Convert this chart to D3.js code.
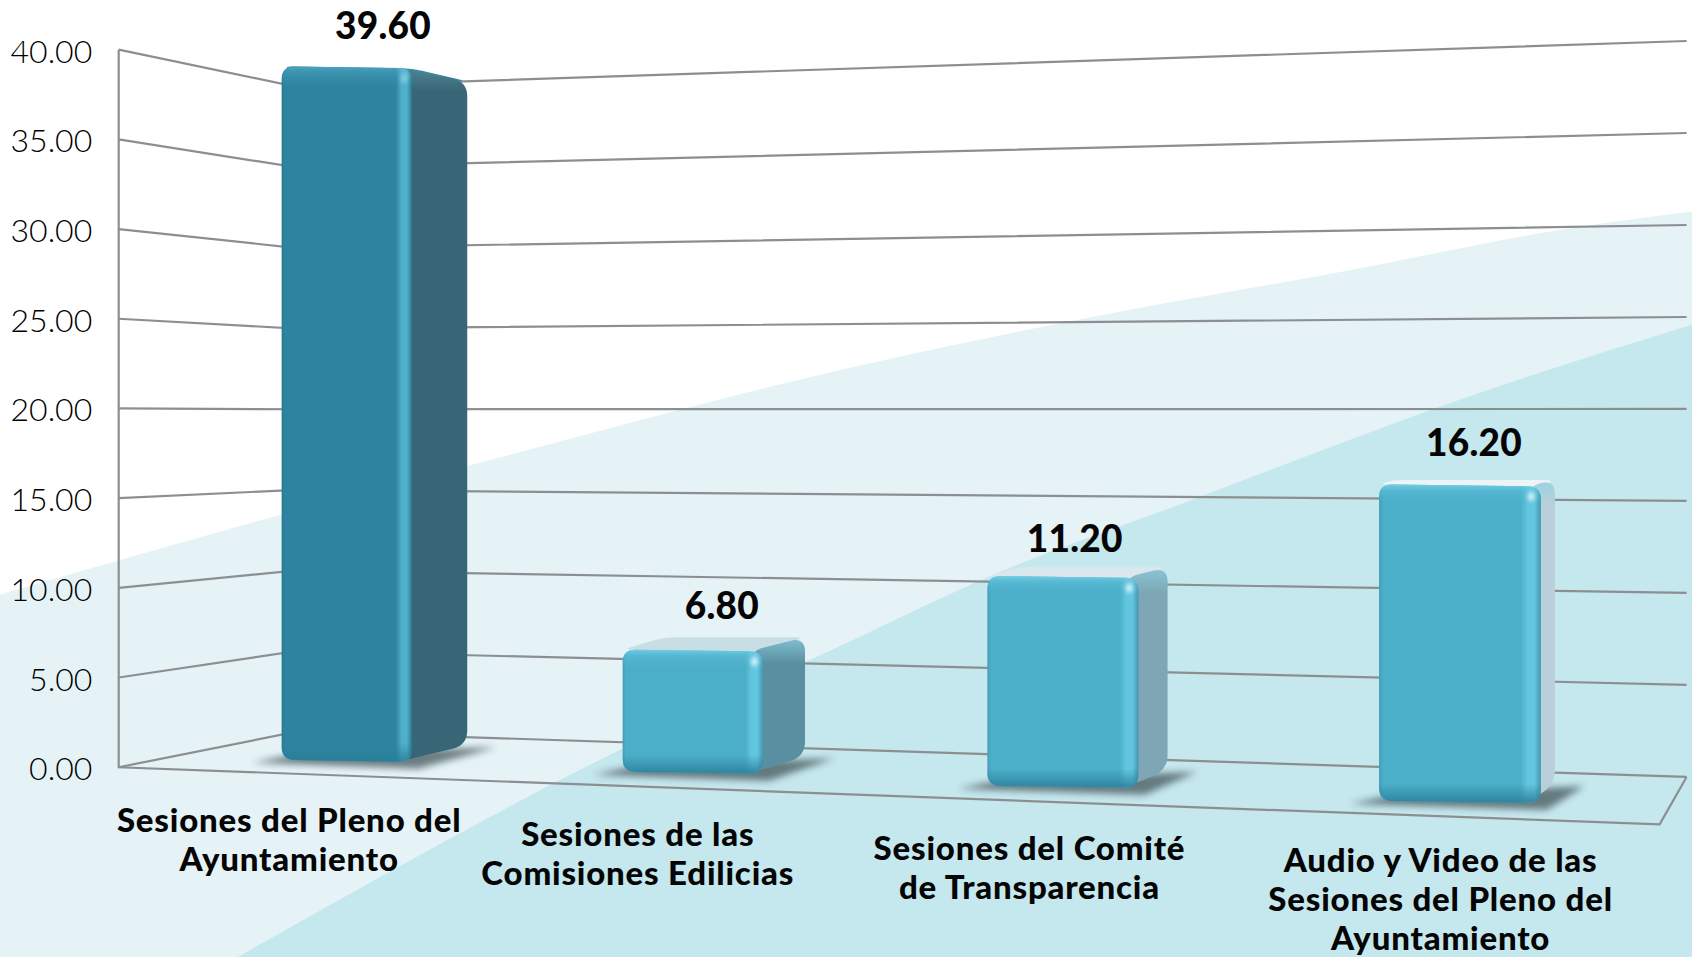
<!DOCTYPE html>
<html><head><meta charset="utf-8">
<style>html,body{margin:0;padding:0;background:#fff}svg{display:block}</style>
<script src="https://cdn.jsdelivr.net/npm/d3@7/dist/d3.min.js"></script></head>
<body><svg id="c" width="1692" height="957"></svg>
<script>
// DATA
const categories = [
  ["Sesiones del Pleno del","Ayuntamiento"],
  ["Sesiones de las","Comisiones Edilicias"],
  ["Sesiones del Comité","de Transparencia"],
  ["Audio y Video de las","Sesiones del Pleno del","Ayuntamiento"]];
const values = [39.6, 6.8, 11.2, 16.2];
const valueLabels = ["39.60","6.80","11.20","16.20"];
const yTicks = [0,5,10,15,20,25,30,35,40];
const tickLabels = ["0.00","5.00","10.00","15.00","20.00","25.00","30.00","35.00","40.00"];

// GEOMETRY (shrunk 1568 space scaled up by S)
const S = 1692/1568;
const svg = d3.select("#c");
const defs = svg.append("defs");
const idx = [0,1,2,3];
const yFront = d3.scaleLinear().domain([0,40]).range([711*S,46*S]);
const yBack  = d3.scaleLinear().domain([0,40]).range([678*S,80.5*S]);
const yRight = d3.scaleLinear().domain([0,40]).range([720*S,38*S]);
const xFront = 110*S, xBack = 275*S, xRight = 1563*S;
const floorFront = [1538*S,764*S];

const barLeft  = d3.scaleLinear().domain(idx).range([261,577,915,1278].map(d=>d*S));
const barWidth = d3.scaleLinear().domain(idx).range([121,130,140,150].map(d=>d*S));
const barSide  = d3.scaleLinear().domain(idx).range([51,39,27,13].map(d=>d*S));
const barBase  = d3.scaleLinear().domain(idx).range([706,717,730,744].map(d=>d*S));
const barUnit  = d3.scaleLinear().domain(idx).range([16.3,17.06,17.6,18.27].map(d=>d*S));
const horizonY = yFront(20), persp = 0.047;
const labelX = d3.scaleLinear().domain(idx).range([268,591,954,1335].map(d=>d*S));
const labelY = d3.scaleLinear().domain(idx).range([771,784,797,808].map(d=>d*S));
const valX = d3.scaleLinear().domain(idx).range([355,669,996,1366].map(d=>d*S));
const valGap = d3.scaleLinear().domain(idx).range([24,27,21,25].map(d=>d*S));
const frontCol = ["#2f84a0","#4cafca","#4cafca","#4cafca"];
const frontHi  = ["#4fb0cc","#64c6e0","#64c6e0","#64c6e0"];
const sideCol  = ["#386676","#5a8fa1","#7ea6b4","#b9d0da"];
const topCol   = ["#3a8aa5","#c8dee5","#d9e8ec","#ecf4f7"];

// BACKGROUND
const lightEdge = [[0,551],[111,519],[260,477],[432,432],[800,338],[1000,296],[1242,252],[1458,211],[1568,196]].map(p=>[p[0]*S,p[1]*S]);
const darkEdge  = [[220,887],[556,704],[797,590],[915,535],[1100,465],[1242,411],[1334,377],[1568,301]].map(p=>[p[0]*S,p[1]*S]);
const crv = d3.line().curve(d3.curveMonotoneX);
svg.append("path").attr("d",crv(lightEdge)+`L1692,957L0,957Z`).attr("fill","#e5f3f7");
svg.append("path").attr("d",crv(darkEdge)+`L1692,957L${220*S},957Z`).attr("fill","#c5e7ee");

// WALL + FLOOR GRID
const grey = "#8c8f91";
const g = svg.append("g").attr("fill","none").attr("stroke",grey).attr("stroke-width",2.2);
g.selectAll("path.grid").data(yTicks).join("path").attr("class","grid")
  .attr("d",t=>d3.line()([[xFront,yFront(t)],[xBack,yBack(t)],[xRight,yRight(t)]]));
g.append("path").attr("d",d3.line()([[xFront,yFront(40)],[xFront,yFront(0)],floorFront,[xRight,yRight(0)]]));

// TICK LABELS
svg.append("g").selectAll("text").data(yTicks).join("text")
  .attr("x",85.5*S).attr("y",t=>yFront(t)+13)
  .attr("text-anchor","end").attr("font-family","Lato").attr("font-weight",300)
  .attr("font-size",32).attr("fill","#000")
  .text((t,i)=>tickLabels[i]);

// FILTERS
defs.append("filter").attr("id","blur").attr("x","-30%").attr("y","-100%").attr("width","160%").attr("height","300%")
  .append("feGaussianBlur").attr("stdDeviation",3.5);
defs.append("filter").attr("id","soft").attr("x","-5%").attr("y","-5%").attr("width","110%").attr("height","110%")
  .append("feGaussianBlur").attr("stdDeviation",0.7);
defs.append("filter").attr("id","spec").attr("x","-100%").attr("y","-100%").attr("width","300%").attr("height","300%")
  .append("feGaussianBlur").attr("stdDeviation",2);

function rr(pts,r){ // rounded polygon
  const n=pts.length; let d="";
  pts.forEach((p,i)=>{
    const a=pts[(i-1+n)%n], b=pts[(i+1)%n];
    const ua=Math.hypot(a[0]-p[0],a[1]-p[1]), ub=Math.hypot(b[0]-p[0],b[1]-p[1]);
    const ra=Math.min(r,ua/2), rb=Math.min(r,ub/2);
    const s=[p[0]+(a[0]-p[0])*ra/ua,p[1]+(a[1]-p[1])*ra/ua];
    const e=[p[0]+(b[0]-p[0])*rb/ub,p[1]+(b[1]-p[1])*rb/ub];
    d+=(i?"L":"M")+s[0]+","+s[1]+"Q"+p[0]+","+p[1]+" "+e[0]+","+e[1];
  });
  return d+"Z";
}

// BARS
values.forEach((v,i)=>{
  const L=barLeft(i), W=barWidth(i), SD=barSide(i), B=barBase(i), T=B-v*barUnit(i), R=L+W;
  const dyTop=(horizonY-T)*persp, dyBot=(horizonY-B)*persp;
  // shadow
  svg.append("path").attr("filter","url(#blur)").attr("fill","#3a4b50").attr("opacity",0.7)
    .attr("d",d3.line()([[L-27*S,B+1],[L+20,B-9],[R+SD+27*S,B+dyBot+2],[R+6,B+7]]));
  const bar=svg.append("g").attr("filter","url(#soft)");
  // top
  bar.append("path").attr("fill",topCol[i])
    .attr("d",rr([[L,T+1],[L+SD,T+dyTop],[R+SD,T+dyTop],[R,T+3]],10));
  // side
  const gs=defs.append("linearGradient").attr("id","side"+i);
  gs.append("stop").attr("offset",0).attr("stop-color",d3.color(sideCol[i]).darker(.25));
  gs.append("stop").attr("offset",.25).attr("stop-color",sideCol[i]);
  gs.append("stop").attr("offset",1).attr("stop-color",sideCol[i]);
  const sp=rr([[R-14,T+3],[R+SD,T+dyTop],[R+SD,B+dyBot],[R-14,B]],15);
  bar.append("path").attr("fill",`url(#side${i})`).attr("d",sp);
  const gt=defs.append("linearGradient").attr("id","st"+i).attr("gradientUnits","userSpaceOnUse")
    .attr("x1",0).attr("x2",0).attr("y1",T+Math.min(dyTop,0)).attr("y2",T+Math.min(dyTop,0)+26);
  gt.append("stop").attr("offset",0).attr("stop-color","#8fd3e6").attr("stop-opacity",i?0.75:0.3);
  gt.append("stop").attr("offset",1).attr("stop-color","#8fd3e6").attr("stop-opacity",0);
  bar.append("path").attr("fill",`url(#st${i})`).attr("d",sp);
  // front
  const gf=defs.append("linearGradient").attr("id","front"+i);
  [[0,d3.color(frontCol[i]).darker(.3)],[.025,frontCol[i]],[.875,frontCol[i]],[.92,frontHi[i]],[.96,frontHi[i]],[1,d3.color(frontCol[i]).darker(.4)]]
    .forEach(s=>gf.append("stop").attr("offset",s[0]).attr("stop-color",s[1]));
  const gv=defs.append("linearGradient").attr("id","fv"+i)
    .attr("gradientUnits","userSpaceOnUse").attr("x1",0).attr("x2",0).attr("y1",T).attr("y2",B);
  const tf=12/(B-T);
  [[0,"#7fd6ec",i?.9:.45],[tf*.6,"#5ec0da",i?.55:.25],[tf*1.8,"#4cafca",0],[1-tf*1.6,"#2a7f99",0],[1,"#2a7f99",.9]]
    .forEach(s=>gv.append("stop").attr("offset",s[0]).attr("stop-color",s[1]).attr("stop-opacity",s[2]));
  const fp=rr([[L,T+1],[R,T+3],[R,B],[L,B-2]],13);
  bar.append("path").attr("fill",`url(#front${i})`).attr("d",fp);
  bar.append("path").attr("fill",`url(#fv${i})`).attr("d",fp);
  // specular
  svg.append("ellipse").attr("cx",R-W*.06).attr("cy",T+13).attr("rx",3.5).attr("ry",5)
    .attr("fill","#e8fbff").attr("opacity",i?.85:.35).attr("filter","url(#spec)");
  // value label
  svg.append("text").attr("x",valX(i)).attr("y",T-valGap(i))
    .attr("text-anchor","middle").attr("font-family","Lato").attr("font-weight",900)
    .attr("font-size",37).attr("letter-spacing",0.3).attr("fill","#050505").text(valueLabels[i]);
});

// CATEGORY LABELS
categories.forEach((lines,i)=>{
  const t=svg.append("text").attr("text-anchor","middle").attr("font-family","Lato")
    .attr("font-weight",900).attr("font-size",33).attr("letter-spacing",0.8).attr("fill","#050505");
  lines.forEach((l,k)=>t.append("tspan").attr("x",labelX(i)).attr("y",labelY(i)+k*36*S).text(l));
});
</script></body></html>
